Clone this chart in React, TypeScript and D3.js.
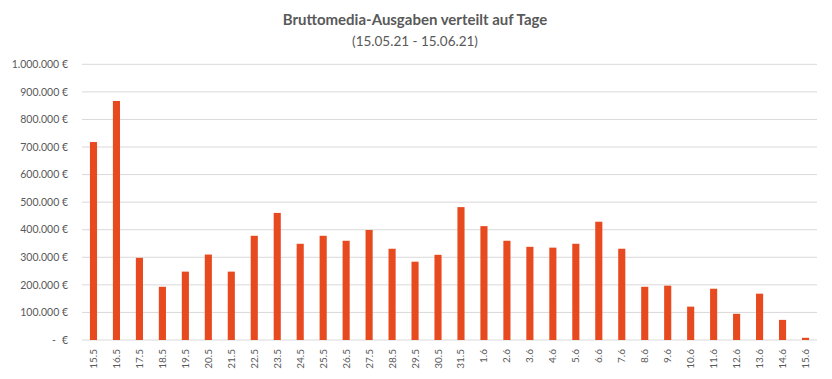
import React from "react";
import * as d3 from "d3";

const categories = ["15.5","16.5","17.5","18.5","19.5","20.5","21.5","22.5","23.5","24.5","25.5","26.5","27.5","28.5","29.5","30.5","31.5","1.6","2.6","3.6","4.6","5.6","6.6","7.6","8.6","9.6","10.6","11.6","12.6","13.6","14.6","15.6"];
const values = [718000,867000,298000,193000,248000,310000,248000,378000,461000,349000,378000,360000,399000,331000,284000,309000,482000,413000,360000,338000,335000,349000,429000,331000,193000,197000,121000,186000,95000,168000,73000,8000];
const yTicks = [0,100000,200000,300000,400000,500000,600000,700000,800000,900000,1000000];

const W = 832, H = 379;
const FONT = "Lato, 'Open Sans', sans-serif";
const TEXT = "#595959";

export default function App() {
  const x = d3.scaleBand<string>().domain(categories).range([82, 817]).paddingInner(0.69).paddingOuter(0.345);
  const y = d3.scaleLinear().domain([0, 1000000]).range([340, 64.3]);
  const fmt = (v: number) => d3.format(",")(v).replace(/,/g, ".") + " €";
  return (
    <svg width={W} height={H} style={{ position: "absolute", left: 0, top: 0, background: "#fff" }} fontFamily={FONT}>
      <text x={415} y={25} textAnchor="middle" fontSize={15} fontWeight="bold" fill={TEXT}>Bruttomedia-Ausgaben verteilt auf Tage</text>
      <text x={415} y={46} textAnchor="middle" fontSize={13.5} fill={TEXT}>(15.05.21 - 15.06.21)</text>
      {yTicks.map(t => (
        <g key={t}>
          <line x1={82} x2={817} y1={y(t)} y2={y(t)} stroke="#d9d9d9" strokeWidth={1} />
          {t === 0 ? (
            <g>
              <text x={56} y={y(t)} dy="0.35em" textAnchor="end" fontSize={10.5} fill={TEXT}>-</text>
              <text x={68} y={y(t)} dy="0.35em" textAnchor="end" fontSize={10.5} fill={TEXT}>€</text>
            </g>
          ) : (
            <text x={68} y={y(t)} dy="0.35em" textAnchor="end" fontSize={10.5} fill={TEXT}>{fmt(t)}</text>
          )}
        </g>
      ))}
      {categories.map((c, i) => (
        <rect key={c} x={x(c)} y={y(values[i])} width={x.bandwidth()} height={340 - y(values[i])} fill="#e84a1f" />
      ))}
      {categories.map(c => {
        const cx = (x(c) as number) + x.bandwidth() / 2;
        return (
          <text key={c} transform={`translate(${cx + 3.5},349) rotate(-90)`} textAnchor="end" fontSize={10} fill={TEXT}>{c}</text>
        );
      })}
    </svg>
  );
}
